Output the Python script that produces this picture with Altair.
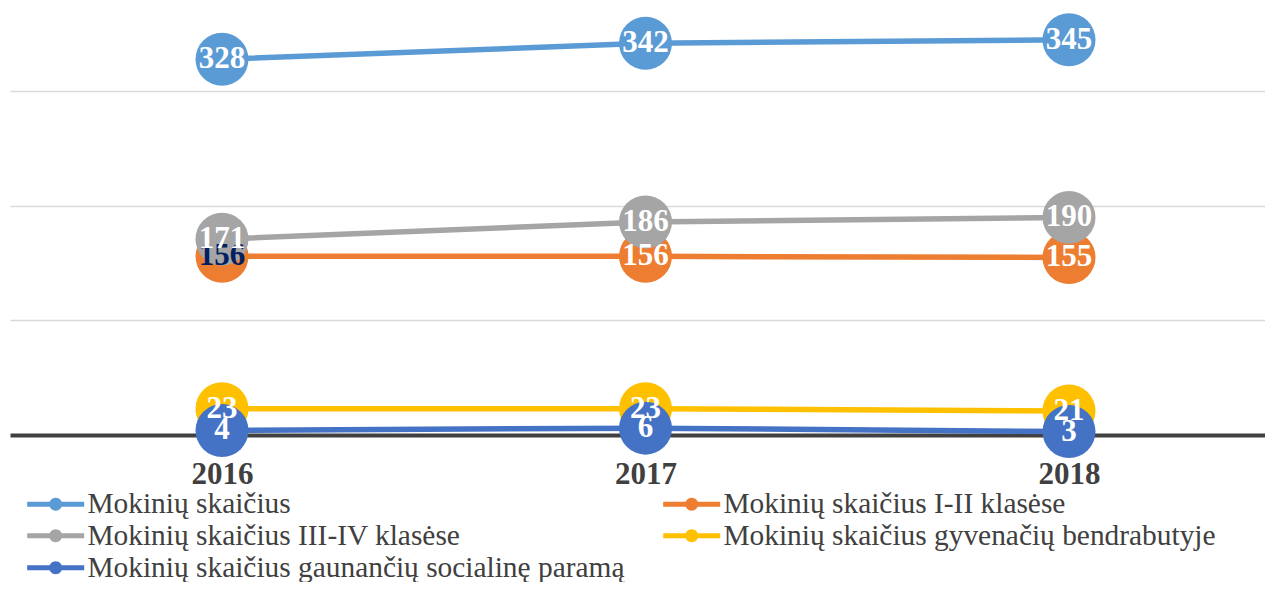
import altair as alt
import pandas as pd

years = [2016, 2017, 2018]
series = [
    "Mokinių skaičius",
    "Mokinių skaičius I-II klasėse",
    "Mokinių skaičius III-IV klasėse",
    "Mokinių skaičius gyvenačių bendrabutyje",
    "Mokinių skaičius gaunančių socialinę paramą",
]
v_total = [328, 342, 345]
v_12 = [156, 156, 155]
v_34 = [171, 186, 190]
v_dorm = [23, 23, 21]
v_social = [4, 6, 3]
colors = ["#5B9BD5", "#ED7D31", "#A5A5A5", "#FFC000", "#4472C4"]

rows = []
for s, vals in zip(series, [v_total, v_12, v_34, v_dorm, v_social]):
    for y, v in zip(years, vals):
        rows.append({"year": y, "series": s, "value": v})
df = pd.DataFrame(rows)

FONT = "Liberation Serif"
TXT = "#404040"

x = alt.X(
    "year:Q",
    scale=alt.Scale(domain=[2015.4994, 2018.4628], nice=False, zero=False),
    axis=alt.Axis(
        values=years, format="d", title=None, grid=False, ticks=False,
        domainColor="#404040", domainWidth=4,
        labelFont=FONT, labelFontSize=31, labelFontWeight="bold",
        labelColor=TXT, labelPadding=24,
    ),
)
y = alt.Y(
    "value:Q",
    scale=alt.Scale(domain=[0, 372.8], nice=False, zero=True),
    axis=alt.Axis(
        values=[100, 200, 300], title=None, labels=False, ticks=False,
        domain=False, grid=True, gridColor="#d9d9d9", gridWidth=1.5,
    ),
)

sym = ("M-2.85,-0.25 L2.85,-0.25 L2.85,0.25 L-2.85,0.25 Z "
       "M-0.65,0 A0.65,0.65 0 1,1 0.65,0 A0.65,0.65 0 1,1 -0.65,0 Z")

base = alt.Chart(df)

lines = base.mark_line(strokeWidth=5.5).encode(
    x=x, y=y,
    stroke=alt.Stroke(
        "series:N",
        scale=alt.Scale(domain=series[::-1], range=colors[::-1]),
        legend=None,
    ),
    detail="series:N",
)

points = base.mark_circle(size=2809, opacity=1).encode(
    x=x, y=y,
    fill=alt.Fill(
        "series:N",
        scale=alt.Scale(domain=series, range=colors),
        legend=alt.Legend(
            orient="none", direction="horizontal", legendX=31, legendY=481,
            columns=2, title=None,
            symbolType=sym, symbolSize=400, symbolStrokeWidth=0, symbolOpacity=1,
            labelFont=FONT, labelFontSize=29.4, labelColor=TXT, labelLimit=1000,
            labelOffset=17, rowPadding=1, columnPadding=38,
        ),
    ),
)

labels = base.mark_text(
    font=FONT, fontSize=31, fontWeight="bold", baseline="middle", align="center"
).encode(
    x=x, y=y,
    text="value:Q",
    color=alt.condition(
        "datum.year == 2016 && datum.series == 'Mokinių skaičius I-II klasėse'",
        alt.value("#002060"), alt.value("white"),
    ),
)

chart = alt.layer(lines, points, labels).properties(
    width=1255, height=427,
    padding={"left": 2, "top": 0, "right": 0, "bottom": 147},
    autosize=alt.AutoSizeParams(type="none"),
).configure_view(stroke=None)

chart.save("out.html", embed_options={"renderer": "svg", "actions": False})
